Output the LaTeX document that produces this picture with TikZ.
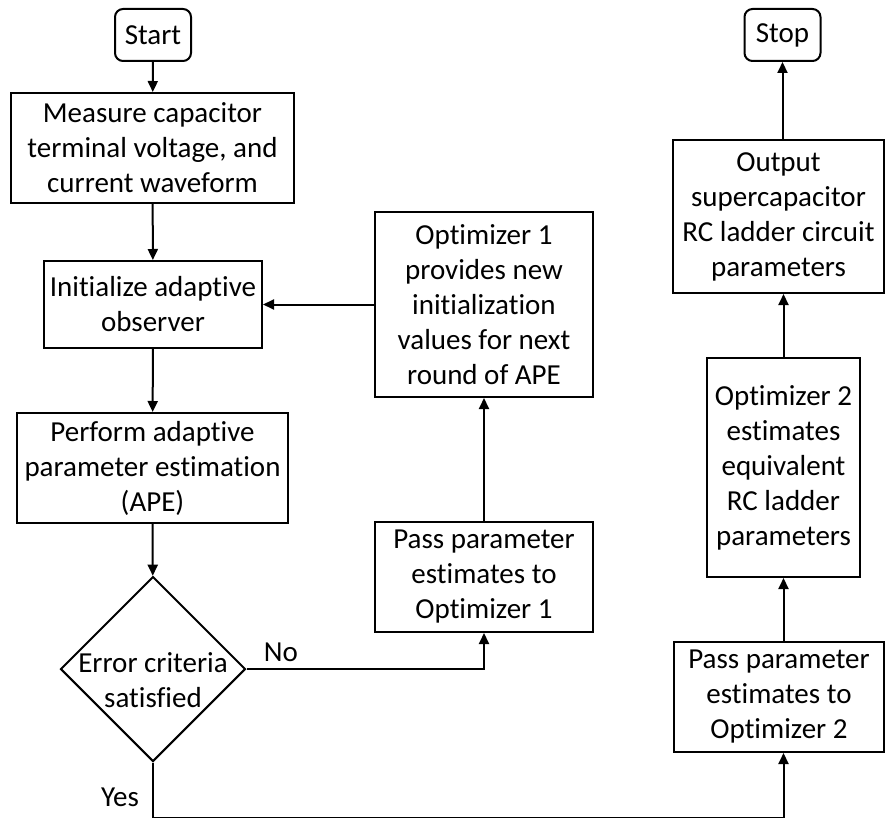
\documentclass[tikz,border=0pt]{standalone}
\usepackage{fontspec}
\setmainfont{Carlito}[Ligatures=NoCommon]
\usetikzlibrary{arrows.meta,shapes.geometric}

\begin{document}
\begin{tikzpicture}[x=1pt,y=-1pt,line width=2pt,
	every node/.style={font=\fontsize{29}{35}\selectfont,align=center,inner sep=0pt},
	term/.style={draw,rounded corners=8pt,minimum width=76pt,minimum height=52pt},
	box/.style={draw,minimum width=#1},
	decide/.style={draw,diamond,aspect=1,minimum width=185pt,minimum height=185pt},
	arr/.style={-{Triangle[length=11pt,width=10pt]}}]
\useasboundingbox (0,0) rectangle (885,818);
\node[term] (start) at (153,35) {Start};
\node[box=283pt,minimum height=110pt] (measure) at (152.5,148) {Measure capacitor\\terminal voltage, and\\current waveform};
\node[box=218pt,minimum height=87pt] (init) at (153,304.5) {Initialize adaptive\\observer};
\node[box=271pt,minimum height=110pt] (perform) at (152.5,468) {Perform adaptive\\parameter estimation\\(APE)};
\node[decide] (check) at (153,669) {};
\node (checktext) at (153,680) {Error criteria\\satisfied};
\node[box=218pt,minimum height=185pt] (opt1) at (484,304.5) {Optimizer 1\\provides new\\initialization\\values for next\\round of APE};
\node[box=218pt,minimum height=110pt] (pass1) at (484,577) {Pass parameter\\estimates to\\Optimizer 1};
\node[term] (stop) at (782.5,35) {Stop};
\node[box=211pt,minimum height=153pt] (output) at (778.5,216.5) {Output\\supercapacitor\\RC ladder circuit\\parameters};
\node[box=153pt,minimum height=219pt] (opt2) at (783.5,467.5) {Optimizer 2\\estimates\\equivalent\\RC ladder\\parameters};
\node[box=210pt,minimum height=110pt] (pass2) at (779,697) {Pass parameter\\estimates to\\Optimizer 2};
\node (no) at (281,652) {No};
\node (yes) at (120,797) {Yes};
\draw[arr] (start) -- (measure);
\draw[arr] (measure) -- (init);
\draw[arr] (init) -- (perform);
\draw[arr] (perform) -- (check);
\draw[arr] (opt1) -- (init);
\draw[arr] (pass1) -- (opt1);
\draw[arr] (check.east) -| (pass1.south);
\draw[arr] (check.south) -- ++(0,55) -| (pass2.south -| opt2);
\draw[arr] (pass2.north -| opt2) -- (opt2.south);
\draw[arr] (opt2.north) -- (opt2.north |- output.south);
\draw[arr] (output.north -| stop) -- (stop.south);
\end{tikzpicture}
\end{document}
